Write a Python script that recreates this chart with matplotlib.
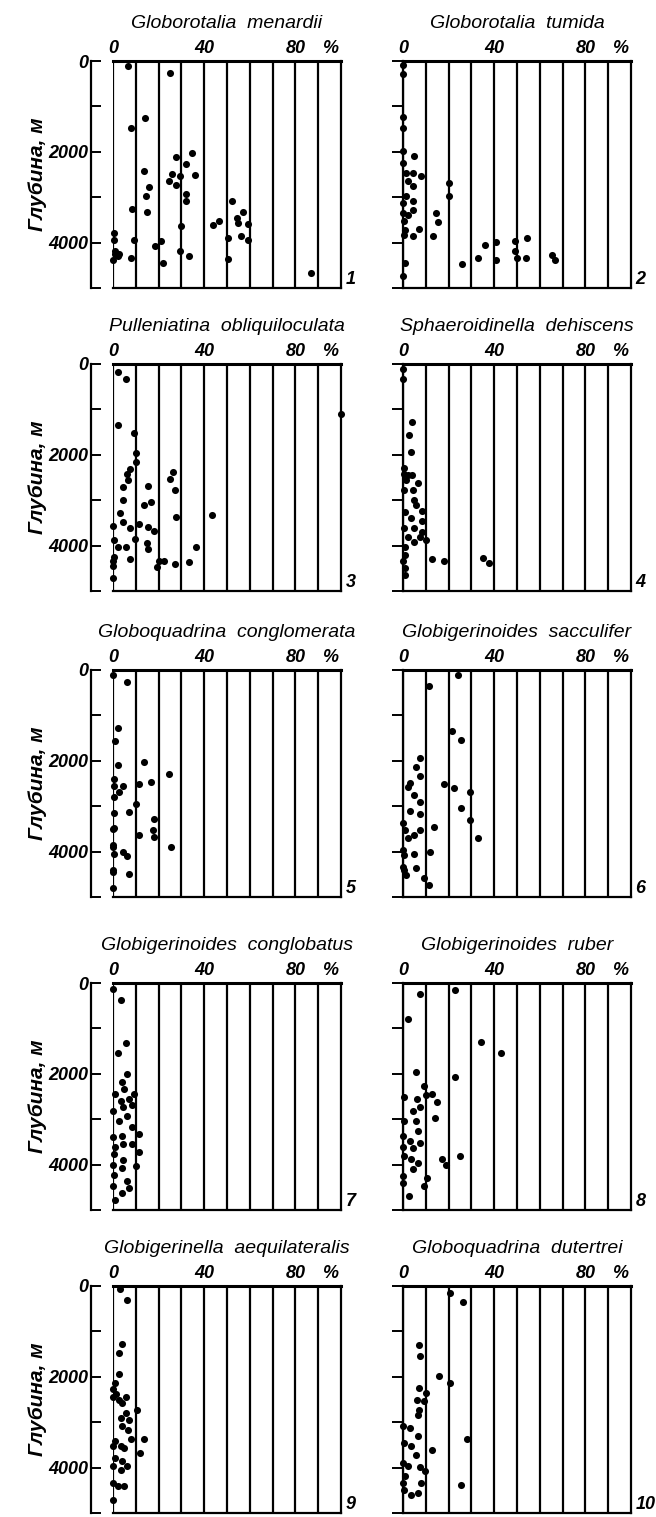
import matplotlib
matplotlib.use('Agg')
import matplotlib.pyplot as plt

plt.rcParams['font.family'] = ['Liberation Sans', 'DejaVu Sans']
plt.rcParams['font.style'] = 'italic'

# --- data: percent of species vs depth (m) ---
titles = ['Globorotalia  menardii', 'Globorotalia  tumida',
          'Pulleniatina  obliquiloculata', 'Sphaeroidinella  dehiscens',
          'Globoquadrina  conglomerata', 'Globigerinoides  sacculifer',
          'Globigerinoides  conglobatus', 'Globigerinoides  ruber',
          'Globigerinella  aequilateralis', 'Globoquadrina  dutertrei']

menardii_pct = [6.5, 25, 14, 8, 34.5, 27.5, 32, 13.5, 36, 26, 29.5, 24.5, 27.5, 16, 14.5,
                32, 32, 52, 8.5, 15, 57, 54.5, 55, 59, 46.5, 44, 30, 0.3, 0.3, 9, 56, 59,
                50.5, 21, 18.5, 1, 0, 2, 8, 29.5, 33.5, 50.5, 22, 87, 1, 2.5]
menardii_depth = [100, 260, 1250, 1480, 2020, 2120, 2260, 2420, 2520, 2480, 2540, 2650,
                  2730, 2780, 2970, 2930, 3090, 3090, 3260, 3330, 3320, 3460, 3560, 3580,
                  3530, 3610, 3640, 3790, 3940, 3950, 3860, 3950, 3890, 3960, 4070, 4190,
                  4390, 4300, 4340, 4190, 4300, 4360, 4450, 4670, 4250, 4250]

tumida_pct = [0, 0, 0, 0, 0, 5, 0, 1.5, 4.5, 8, 2, 4.5, 20, 20, 1.5, 4.5, 0, 4.5, 0, 2,
              14.5, 15.5, 0.5, 1, 7, 4.5, 0.5, 13, 36, 41, 41, 49, 49, 50, 54.5, 54, 33,
              26, 65.5, 66.5, 1, 0]
tumida_depth = [90, 290, 1230, 1480, 1990, 2100, 2250, 2470, 2470, 2530, 2650, 2760, 2680,
                2980, 2980, 3090, 3130, 3290, 3350, 3390, 3350, 3550, 3530, 3720, 3700,
                3860, 3830, 3850, 4050, 3980, 4380, 3970, 4190, 4340, 3890, 4340, 4340,
                4470, 4270, 4380, 4450, 4730]

pulleniatina_pct = [2, 5.5, 2, 9, 10, 10, 7.5, 6, 6.5, 4.5, 15.5, 26.5, 25, 27, 4.5, 16.5,
                    13.5, 3, 27.5, 43.5, 4.5, 11.5, 0, 7.5, 15.5, 18, 9.5, 0.5, 5.5, 2, 15,
                    15.5, 36.5, 7.5, 0, 20, 22.5, 19.5, 27, 33.5, 0, 100, 0.5, 0]
pulleniatina_depth = [180, 320, 1340, 1520, 1970, 2160, 2310, 2430, 2560, 2710, 2690, 2380,
                      2530, 2770, 2990, 3040, 3110, 3280, 3380, 3330, 3490, 3520, 3570,
                      3620, 3580, 3670, 3850, 3870, 4020, 4040, 3950, 4070, 4040, 4290,
                      4350, 4330, 4330, 4480, 4400, 4360, 4710, 1100, 4250, 4450]

sphaeroidinella_pct = [0, 0, 4, 2.5, 3.5, 0.5, 0.5, 2, 4, 1.5, 6.5, 4.5, 0.5, 5, 5.5, 8.5,
                       1, 3.5, 8.5, 5, 8.5, 0.5, 7.5, 10, 5, 2, 1, 1, 0, 1, 12.5, 18, 35,
                       37.5, 1]
sphaeroidinella_depth = [110, 330, 1280, 1560, 1940, 2300, 2420, 2450, 2450, 2560, 2630,
                         2770, 2770, 2990, 3100, 3230, 3250, 3390, 3450, 3610, 3690, 3610,
                         3820, 3870, 3910, 3800, 4020, 4200, 4340, 4490, 4290, 4340, 4270,
                         4380, 4640]

conglomerata_pct = [0, 6, 2, 1, 2, 13.5, 24.5, 0.5, 11.5, 16.5, 0.5, 4.5, 2.5, 0.5, 10, 7,
                    0.5, 18, 17.5, 0.5, 18, 11.5, 0, 0.5, 25.5, 4.5, 6, 0, 7, 0, 0, 0, 0]
conglomerata_depth = [110, 270, 1280, 1570, 2100, 2030, 2290, 2400, 2500, 2460, 2560, 2550,
                      2680, 2790, 2950, 3120, 3140, 3280, 3520, 3480, 3680, 3640, 3900,
                      4060, 3900, 4000, 4100, 4460, 4500, 4800, 3500, 3850, 4400]

sacculifer_pct = [24, 11.5, 21.5, 25.5, 7.5, 5.5, 7.5, 3, 2, 18, 22.5, 29.5, 5, 7.5, 25.5,
                  3, 7.5, 29.5, 0, 13.5, 7.5, 1, 5, 2, 33, 0, 0.5, 5, 12, 0, 1.5, 5.5, 9,
                  11.5, 0.5]
sacculifer_depth = [110, 350, 1350, 1540, 1930, 2130, 2330, 2480, 2570, 2510, 2590, 2680,
                    2760, 2900, 3050, 3100, 3180, 3310, 3380, 3450, 3530, 3530, 3640, 3690,
                    3710, 3970, 4080, 4060, 4000, 4340, 4520, 4370, 4590, 4740, 4400]

conglobatus_pct = [0, 3.5, 5.5, 2, 6, 4, 5, 1, 9, 7, 3.5, 4.5, 8.5, 0, 6, 2.5, 8.5, 11.5,
                   0, 4, 1, 4.5, 8.5, 11.5, 0.5, 4.5, 0, 10, 4, 0.5, 6, 0, 7, 4, 1]
conglobatus_depth = [130, 370, 1330, 1540, 2010, 2180, 2330, 2440, 2440, 2550, 2590, 2740,
                     2680, 2810, 2920, 3050, 3180, 3330, 3400, 3370, 3610, 3550, 3540, 3720,
                     3770, 3890, 4000, 4030, 4070, 4220, 4370, 4480, 4510, 4630, 4770]

ruber_pct = [7.5, 23, 2, 34, 43, 5.5, 23, 9, 0.5, 6, 10, 12.5, 15, 7.5, 4.5, 14, 0.5, 5.5,
             6.5, 0, 3, 7.5, 4.5, 0, 17, 19, 25, 0.5, 3.5, 6.5, 4.5, 0, 0, 10.5, 9, 2.5]
ruber_depth = [240, 160, 790, 1300, 1540, 1950, 2070, 2260, 2500, 2560, 2460, 2450, 2630,
               2740, 2810, 2980, 3050, 3050, 3270, 3380, 3470, 3530, 3640, 3620, 3880, 4000,
               3820, 3820, 3880, 3970, 4100, 4260, 4410, 4300, 4470, 4700]

aequilateralis_pct = [3, 6, 4, 2.5, 2.5, 1, 0, 1.5, 5.5, 0, 2.5, 4, 10.5, 5.5, 3.5, 7, 4,
                      6.5, 8, 13.5, 1, 3.5, 0, 5, 12, 1, 4, 6, 0, 3.5, 0, 2, 5, 0]
aequilateralis_depth = [70, 310, 1280, 1480, 1940, 2130, 2270, 2380, 2450, 2450, 2510,
                        2580, 2730, 2800, 2910, 2960, 3090, 3170, 3370, 3370, 3420, 3530,
                        3530, 3570, 3670, 3790, 3860, 3970, 3970, 4060, 4340, 4410, 4410,
                        4710]

dutertrei_pct = [20.5, 26.5, 7, 7.5, 16, 20.5, 7, 10, 6, 9, 7, 6.5, 3, 0, 6.5, 28, 0.5,
                 3.5, 12.5, 5.5, 0, 2, 7.5, 9.5, 1, 0, 8, 25.5, 0.5, 6.5, 3.5]
dutertrei_depth = [150, 360, 1300, 1550, 1990, 2130, 2250, 2360, 2510, 2540, 2730, 2840,
                   3130, 3090, 3310, 3370, 3460, 3530, 3620, 3720, 3900, 3970, 3990, 4080,
                   4190, 4340, 4350, 4380, 4490, 4550, 4600]

series = [(menardii_pct, menardii_depth), (tumida_pct, tumida_depth),
          (pulleniatina_pct, pulleniatina_depth), (sphaeroidinella_pct, sphaeroidinella_depth),
          (conglomerata_pct, conglomerata_depth), (sacculifer_pct, sacculifer_depth),
          (conglobatus_pct, conglobatus_depth), (ruber_pct, ruber_depth),
          (aequilateralis_pct, aequilateralis_depth), (dutertrei_pct, dutertrei_depth)]

x_ticks = [0, 40, 80, 95]
x_ticklabels = ['0', '40', '80', '%']
y_ticks = [0, 1000, 2000, 3000, 4000, 5000]
y_ticklabels = ['0', '', '2000', '', '4000', '']

# --- layout in pixels ---
W, H = 656, 1517
col_left = [113, 403]
row_top = [61, 364, 670, 983, 1286]
aw, ah = 228, 227

fig = plt.figure(figsize=(W / 100, H / 100), dpi=100)

for i, (pct, depth) in enumerate(series):
    r, c = divmod(i, 2)
    ax = fig.add_axes([col_left[c] / W, 1 - (row_top[r] + ah) / H, aw / W, ah / H])
    ax.set_xlim(0, 100)
    ax.set_ylim(5000, 0)

    for v in range(0, 100, 10):
        ax.axvline(v, color='k', lw=1.6, zorder=1)

    ax.scatter(pct, depth, s=26, color='k', clip_on=False, zorder=3, linewidths=0)

    ax.spines['top'].set_linewidth(2.2)
    ax.spines['right'].set_linewidth(1.6)
    ax.spines['bottom'].set_linewidth(1.6)
    ax.spines['left'].set_linewidth(1.6)

    ax.xaxis.tick_top()
    ax.set_xticks(x_ticks)
    ax.set_xticklabels(x_ticklabels, fontsize=13, fontweight='bold')
    ax.tick_params(axis='x', length=0, pad=3)

    ax.set_yticks(y_ticks)
    if c == 0:
        ax.spines['left'].set_position(('outward', 16))
        ax.tick_params(axis='y', direction='in', length=7, width=1.4, pad=2)
        ax.set_yticklabels(y_ticklabels, fontsize=13, fontweight='bold')
        ax.set_ylabel('Глубина, м', fontsize=15, fontweight='bold')
        ax.yaxis.set_label_coords(-0.29, 0.5)
    else:
        ax.tick_params(axis='y', direction='out', length=8, width=1.4)
        ax.set_yticklabels([])

    ax.text(0.5, 1 + 33 / ah, titles[i], transform=ax.transAxes, ha='center',
            va='baseline', fontsize=14)
    ax.text(1.02, 0.0, str(i + 1), transform=ax.transAxes, ha='left', va='bottom',
            fontsize=13, fontweight='bold')

fig.savefig('out.png', dpi=100)
